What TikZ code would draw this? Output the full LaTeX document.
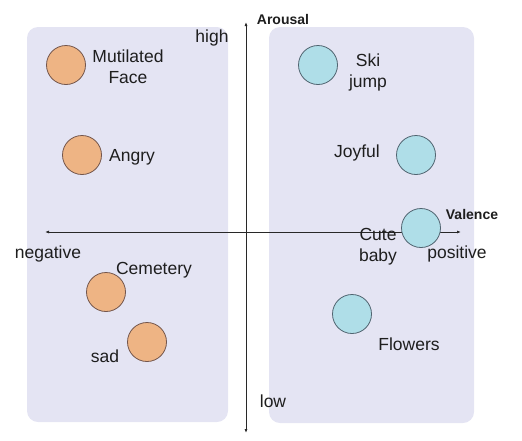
\documentclass[tikz,border=0pt]{standalone}
\usepackage{fontspec}
\setmainfont{Liberation Sans}
\usetikzlibrary{arrows.meta}
\definecolor{EmoPanel}{RGB}{228,228,243}
\definecolor{EmoNeg}{RGB}{238,180,132}
\definecolor{EmoNegLine}{RGB}{115,85,75}
\definecolor{EmoPos}{RGB}{175,222,232}
\definecolor{EmoPosLine}{RGB}{80,100,112}
\definecolor{EmoAxis}{RGB}{40,40,40}
\definecolor{EmoText}{RGB}{30,30,30}

\begin{document}
\begin{tikzpicture}[x=1pt,y=-1pt,
  panel/.style={fill=EmoPanel,rounded corners=11pt},
  negdot/.style={circle,draw=EmoNegLine,fill=EmoNeg,minimum size=39pt,inner sep=0pt,line width=0.8pt},
  posdot/.style={circle,draw=EmoPosLine,fill=EmoPos,minimum size=39pt,inner sep=0pt,line width=0.8pt},
  lbl/.style={font=\fontsize{17.5}{21}\selectfont,align=center,inner sep=0pt,text=EmoText},
  axlbl/.style={font=\fontsize{14}{16}\selectfont\bfseries,inner sep=0pt,text=EmoText},
  axis/.style={{Latex[length=4pt,width=3pt]}-{Latex[length=4pt,width=3pt]},draw=EmoAxis,line width=0.8pt}
]
\useasboundingbox (0,0) rectangle (522,440);
% panels
\path[panel] (27,27) rectangle (228,422);
\path[panel] (269,27) rectangle (474,423);

% axes
\coordinate (atop) at (246,22);
\coordinate (abot) at (246,433);
\coordinate (vleft) at (45,232);
\coordinate (vright) at (461,232);
\draw[axis] (abot) -- (atop);
\draw[axis] (vleft) -- (vright);
\node[axlbl] (arousal) at (283,19) {Arousal};
\node[axlbl] (valence) at (472,214) {Valence};
\node[lbl] (high) at (212,38) {high};
\node[lbl] (low) at (273,401) {low};
\node[lbl] (negative) at (48,254) {negative};
\node[lbl] (positive) at (457,254) {positive};

% negative stimuli
\node[negdot] (face) at (66,65) {};
\node[lbl] (facet) at (128,67) {Mutilated\\Face};
\node[negdot] (angry) at (82,155) {};
\node[lbl] (angryt) at (132,157) {Angry};
\node[negdot] (cemetery) at (106,292) {};
\node[lbl] (cemeteryt) at (154,270) {Cemetery};
\node[negdot] (sad) at (147,342) {};
\node[lbl] (sadt) at (105,356) {sad};

% positive stimuli
\node[posdot] (ski) at (318,65) {};
\node[lbl] (skit) at (368,72) {Ski\\jump};
\node[posdot] (joyful) at (416,155) {};
\node[lbl] (joyfult) at (357,153) {Joyful};
\node[posdot] (baby) at (421,228) {};
\node[lbl] (babyt) at (378,247) {Cute\\baby};
\node[posdot] (flowers) at (352,314) {};
\node[lbl] (flowerst) at (409,344) {Flowers};
\end{tikzpicture}
\end{document}
